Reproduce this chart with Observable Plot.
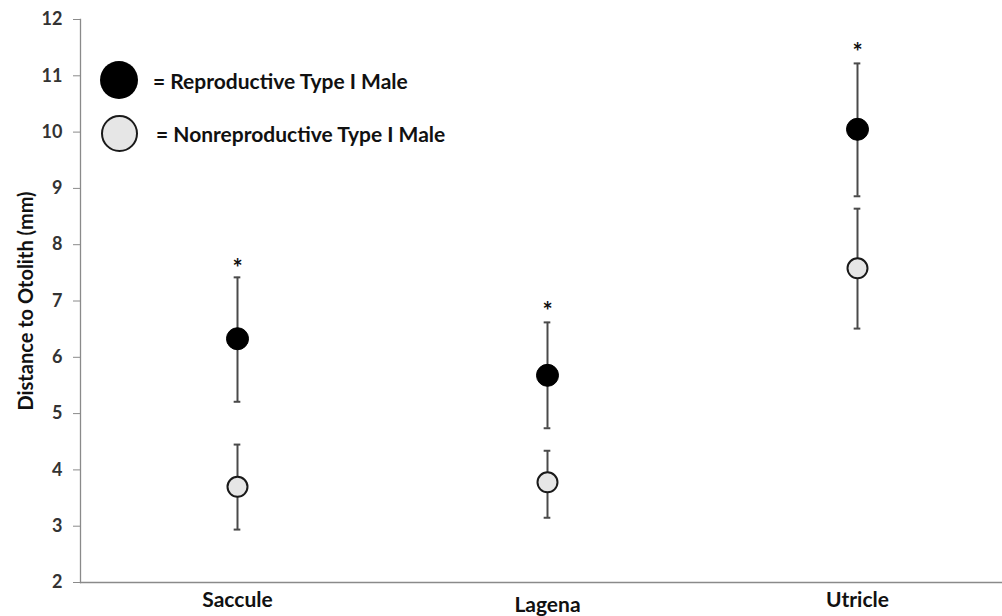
<!DOCTYPE html>
<html>
<head>
<meta charset="utf-8">
<script src="https://cdn.jsdelivr.net/npm/d3@7"></script>
<script src="https://cdn.jsdelivr.net/npm/@observablehq/plot@0.6"></script>
<style>
  body { margin: 0; background: white; font-family: Lato, "Open Sans", sans-serif; }
  #wrap { position: relative; width: 1002px; height: 616px; }
  .leg { position: absolute; display: flex; align-items: center; font-weight: bold; font-size: 21px; color: #111; white-space: nowrap; }
  .sw { position: absolute; border-radius: 50%; box-sizing: border-box; }
</style>
</head>
<body>
<div id="wrap">
  <div id="chart"></div>
</div>
<script>
const categories = ["Saccule", "Lagena", "Utricle"];
const reproMean = [6.33, 5.68, 10.05];
const reproLow  = [5.21, 4.74, 8.86];
const reproHigh = [7.42, 6.62, 11.22];
const nonMean = [3.70, 3.78, 7.58];
const nonLow  = [2.94, 3.15, 6.51];
const nonHigh = [4.45, 4.34, 8.64];
const sigY = [7.67, 6.90, 11.50];
const yTicks = [2, 3, 4, 5, 6, 7, 8, 9, 10, 11, 12];
const legendLabels = ["= Reproductive Type I Male", "= Nonreproductive Type I Male"];

const repro = categories.map((c, i) => ({cat: c, mean: reproMean[i], low: reproLow[i], high: reproHigh[i]}));
const nonrep = categories.map((c, i) => ({cat: c, mean: nonMean[i], low: nonLow[i], high: nonHigh[i]}));
const rows = repro.concat(nonrep);
const sig = categories.map((c, i) => ({cat: c, y: sigY[i]}));

const axisGray = "#8a8a8a";
const capInset = (1012 - 81) / 3 / 2 - 3.5;

const chart = Plot.plot({
  width: 1002,
  height: 616,
  marginLeft: 80,
  marginRight: 0,
  marginTop: 19,
  marginBottom: 34,
  style: {fontFamily: "Lato, 'Open Sans', sans-serif", background: "white", color: "#222"},
  x: {type: "band", domain: categories, range: [81, 1012], padding: 0},
  y: {domain: [2, 12]},
  marks: [
    Plot.ruleY([2], {stroke: axisGray, strokeWidth: 1.3}),
    Plot.frame({anchor: "left", stroke: axisGray, strokeWidth: 1.3}),
    Plot.axisY({
      ticks: yTicks, tickSize: 7, tickPadding: 11, stroke: axisGray,
      fontSize: 18, fontWeight: "bold", fill: "#333", label: null
    }),
    Plot.axisY({
      ticks: [], fontSize: 20, fontWeight: "bold", fill: "#111",
      label: "Distance to Otolith (mm)", labelAnchor: "center", labelArrow: "none", labelOffset: 62
    }),
    Plot.axisX({ticks: ["Saccule", "Utricle"], tickSize: 0, tickPadding: 10, fontSize: 21, fontWeight: "bold", fill: "#111", label: null}),
    Plot.axisX({ticks: ["Lagena"], tickSize: 0, tickPadding: 15, fontSize: 21, fontWeight: "bold", fill: "#111", label: null}),
    Plot.ruleX(rows, {x: "cat", y1: "low", y2: "high", stroke: "#4a4a4a", strokeWidth: 2}),
    Plot.tickY(rows, {x: "cat", y: "low", stroke: "#4a4a4a", strokeWidth: 2, insetLeft: capInset, insetRight: capInset}),
    Plot.tickY(rows, {x: "cat", y: "high", stroke: "#4a4a4a", strokeWidth: 2, insetLeft: capInset, insetRight: capInset}),
    Plot.dot(nonrep, {x: "cat", y: "mean", r: 10, fill: "#e6e6e6", stroke: "#1a1a1a", strokeWidth: 2}),
    Plot.dot(repro, {x: "cat", y: "mean", r: 11, fill: "#000", stroke: "#000", strokeWidth: 1}),
    Plot.text(sig, {x: "cat", y: "y", text: () => "*", fontSize: 24, fontWeight: "bold", fill: "#111", dy: 6})
  ]
});
document.getElementById("chart").appendChild(chart);

// Legend overlay
const wrap = document.getElementById("wrap");
const legSpecs = [
  {fill: "#000", border: "none", cy: 80, tx: 153, d: 38},
  {fill: "#e6e6e6", border: "2px solid #1a1a1a", cy: 133, tx: 156, d: 37}
];
legSpecs.forEach((s, i) => {
  const sw = document.createElement("div");
  sw.className = "sw";
  sw.style.width = s.d + "px";
  sw.style.height = s.d + "px";
  sw.style.left = (119 - s.d / 2) + "px";
  sw.style.top = (s.cy - s.d / 2) + "px";
  sw.style.background = s.fill;
  sw.style.border = s.border;
  wrap.appendChild(sw);
  const t = document.createElement("div");
  t.className = "leg";
  t.textContent = legendLabels[i];
  t.style.left = s.tx + "px";
  t.style.top = (s.cy - 14) + "px";
  t.style.height = "28px";
  wrap.appendChild(t);
});
</script>
</body>
</html>
